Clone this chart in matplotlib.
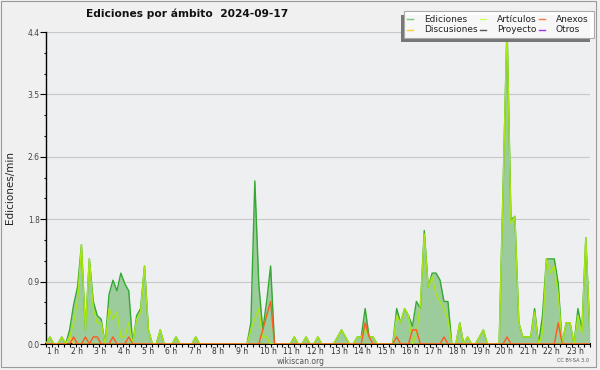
import numpy as np
import matplotlib
matplotlib.use('Agg')
import matplotlib.pyplot as plt
from matplotlib.lines import Line2D
from matplotlib.patches import Rectangle
from matplotlib.ticker import FixedLocator, MultipleLocator
import matplotlib.transforms as mtransforms

# Ediciones/min, una muestra cada 10 min desde la 1 h (6 por hora)
ediciones = [
    0, 0.1, 0, 0, 0.1, 0,            # 1 h
    0.2, 0.55, 0.8, 1.4, 0.2, 1.2,   # 2 h
    0.6, 0.4, 0.35, 0, 0.7, 0.9,     # 3 h
    0.75, 1.0, 0.85, 0.75, 0, 0.4,   # 4 h
    0.5, 1.1, 0.2, 0, 0, 0.2,        # 5 h
    0, 0, 0, 0.1, 0, 0,              # 6 h
    0, 0, 0.1, 0, 0, 0,              # 7 h
    0, 0, 0, 0, 0, 0,                # 8 h
    0, 0, 0, 0, 0.3, 2.3,            # 9 h
    0.85, 0.2, 0.6, 1.1, 0, 0,       # 10 h
    0, 0, 0, 0.1, 0, 0,              # 11 h
    0.1, 0, 0, 0.1, 0, 0,            # 12 h
    0, 0, 0.1, 0.2, 0.1, 0,          # 13 h
    0, 0.1, 0.1, 0.5, 0.1, 0.1,      # 14 h
    0, 0, 0, 0, 0, 0.5,              # 15 h
    0.3, 0.5, 0.4, 0.25, 0.6, 0.5,   # 16 h
    1.6, 0.8, 1.0, 1.0, 0.9, 0.6,    # 17 h
    0.6, 0, 0, 0.3, 0, 0.1,          # 18 h
    0, 0, 0.1, 0.2, 0, 0,            # 19 h
    0, 0, 2.2, 4.5, 1.75, 1.8,       # 20 h
    0.3, 0.1, 0.1, 0.1, 0.5, 0,      # 21 h
    0.4, 1.2, 1.2, 1.2, 0.85, 0,     # 22 h
    0.3, 0.3, 0, 0.5, 0.2, 1.5,      # 23 h
    0.2,
]
articulos = [
    0, 0.1, 0, 0, 0.1, 0,
    0.1, 0.3, 0.6, 1.4, 0.2, 1.2,
    0.5, 0.3, 0.3, 0, 0.5, 0.35,
    0.45, 0.1, 0.1, 0.3, 0, 0.35,
    0.45, 1.1, 0.2, 0, 0, 0.2,
    0, 0, 0, 0.1, 0, 0,
    0, 0, 0.1, 0, 0, 0,
    0, 0, 0, 0, 0, 0,
    0, 0, 0, 0, 0.2, 0.35,
    0.5, 0.1, 0.1, 0, 0, 0,
    0, 0, 0, 0.1, 0, 0,
    0.1, 0, 0, 0.1, 0, 0,
    0, 0, 0.1, 0.2, 0.1, 0,
    0, 0.1, 0.1, 0.2, 0.1, 0.1,
    0, 0, 0, 0, 0, 0.4,
    0.3, 0.5, 0.4, 0, 0.15, 0.55,
    1.55, 0.8, 0.95, 0.7, 0.6, 0.5,
    0.35, 0, 0, 0.3, 0, 0.1,
    0, 0, 0.1, 0.2, 0, 0,
    0, 0, 2.2, 4.5, 1.7, 1.8,
    0.3, 0.1, 0.1, 0.1, 0.45, 0,
    0.15, 1.2, 1.0, 1.1, 0.7, 0,
    0.3, 0.3, 0, 0.4, 0.15, 1.5,
    0.2,
]
anexos = [
    0, 0, 0, 0, 0, 0,
    0, 0.1, 0, 0, 0.1, 0,
    0.1, 0.1, 0, 0, 0, 0.1,
    0, 0, 0, 0.1, 0, 0,
    0, 0, 0, 0, 0, 0,
    0, 0, 0, 0, 0, 0,
    0, 0, 0, 0, 0, 0,
    0, 0, 0, 0, 0, 0,
    0, 0, 0, 0, 0, 0,
    0, 0.2, 0.4, 0.6, 0, 0,
    0, 0, 0, 0, 0, 0,
    0, 0, 0, 0, 0, 0,
    0, 0, 0, 0, 0, 0,
    0, 0, 0, 0.3, 0.1, 0,
    0, 0, 0, 0, 0, 0.1,
    0, 0, 0, 0.2, 0.2, 0,
    0, 0, 0, 0, 0, 0.1,
    0, 0, 0, 0, 0, 0,
    0, 0, 0, 0, 0, 0,
    0, 0, 0, 0.1, 0, 0,
    0, 0, 0, 0, 0, 0,
    0, 0, 0, 0, 0.3, 0,
    0, 0, 0, 0, 0, 0,
    0,
]
discusiones = [0] * len(ediciones)
discusiones[6] = 0.1

horas = 1 + np.arange(len(ediciones)) / 6

y_ticks = [0, 0.88, 1.76, 2.64, 3.52, 4.4]
y_labels = ['0.0', '0.9', '1.8', '2.6', '3.5', '4.4']
x_ticks = list(range(1, 24))
x_labels = [f'{h} h' for h in x_ticks]

leyenda = ['Ediciones', 'Discusiones', 'Artículos', 'Proyecto', 'Anexos', 'Otros']
colores_leyenda = ['#77cc77', '#ffcc33', '#ccff66', '#555555', '#ff7744', '#9933ee']

W, H = 600, 370
def fx(px): return px / W
def fy(py): return 1 - py / H

bg = '#f0f0f0'
fig = plt.figure(figsize=(6, 3.7), dpi=100)
fig.patch.set_facecolor(bg)
ax = fig.add_axes([fx(46), fy(344), 544 / W, 312 / H])
ax.set_facecolor('#eeeff0')

ax.fill_between(horas, ediciones, color='#9ccc9c', lw=0, zorder=2)
ax.plot(horas, ediciones, color='#33a833', lw=1.0, zorder=3)
ax.plot(horas, discusiones, color='#ffcc33', lw=1.0, zorder=4)
ax.plot(horas, articulos, color='#a8e614', lw=1.0, zorder=5)
ax.plot(horas, anexos, color='#ff5a1f', lw=1.0, zorder=6)

ax.set_xlim(1, 24.01)
ax.set_ylim(0, 4.4)

# rejilla
for y in y_ticks[1:]:
    ax.axhline(y, color='#c8c8c8', lw=0.8, zorder=1)

for s in ['top', 'right']:
    ax.spines[s].set_visible(False)
ax.spines['left'].set_linewidth(1.0)
ax.spines['bottom'].set_linewidth(1.4)

ax.yaxis.set_major_locator(FixedLocator(y_ticks))
ax.set_yticklabels(y_labels)
ax.yaxis.set_minor_locator(MultipleLocator(4.4 / 15))
ax.tick_params(axis='y', which='major', length=4, width=0.8, pad=0.5,
               labelsize=5.5, labelcolor='#444444')
ax.tick_params(axis='y', which='minor', length=1.8, width=0.8)

ax.set_xticks(x_ticks)
ax.set_xticklabels(x_labels)
ax.xaxis.set_minor_locator(MultipleLocator(0.25))
ax.tick_params(axis='x', which='both', length=2.3, width=0.8, pad=0,
               labelsize=5.5, labelcolor='#333333')
off = mtransforms.ScaledTranslation(1 / 100, 0, fig.dpi_scale_trans)
for lab in ax.get_xticklabels():
    lab.set_ha('left')
    lab.set_transform(lab.get_transform() + off)

fig.text(fx(10), fy(188), 'Ediciones/min', rotation=90, ha='center', va='center',
         fontsize=7.5, color='#222222')
fig.text(fx(187), fy(14), 'Ediciones por ámbito  2024-09-17', ha='center', va='center',
         fontsize=7.7, fontweight='bold', color='#111111')
fig.text(fx(301), fy(361), 'wikiscan.org', ha='center', va='center',
         fontsize=5.5, color='#555555')
fig.text(fx(589), fy(361), 'CC BY-SA 3.0', ha='right', va='center',
         fontsize=3.6, color='#555555')

# marco exterior
fig.add_artist(Rectangle((fx(0.5), fy(366.5)), fx(595), 366 / H, transform=fig.transFigure,
                         fill=False, edgecolor='#9a9a9a', lw=0.8, zorder=0))

# leyenda con sombra
lx, ly, lw_, lh = 404, 11.5, 189.5, 26.8
fig.add_artist(Rectangle((fx(lx - 3.5), fy(ly + lh + 3.5)), lw_ / W, lh / H,
                         transform=fig.transFigure, facecolor='#777777', lw=0, zorder=8))
fig.add_artist(Rectangle((fx(lx), fy(ly + lh)), lw_ / W, lh / H, transform=fig.transFigure,
                         facecolor='white', edgecolor='#a8a8a8', lw=0.8, alpha=0.95, zorder=9))
col_x = [407, 480, 539]
txt_x = [424, 497, 556]
row_y = [19, 29.5]
for i, (nombre, c) in enumerate(zip(leyenda, colores_leyenda)):
    col, row = divmod(i, 2)
    fig.add_artist(Line2D([fx(col_x[col]), fx(col_x[col] + 6)], [fy(row_y[row])] * 2,
                          transform=fig.transFigure, color=c, lw=1.0, zorder=10))
    fig.text(fx(txt_x[col]), fy(row_y[row]), nombre, ha='left', va='center',
             fontsize=6.5, color='#222222', zorder=10)

fig.savefig('out.png', dpi=100, facecolor=bg)
